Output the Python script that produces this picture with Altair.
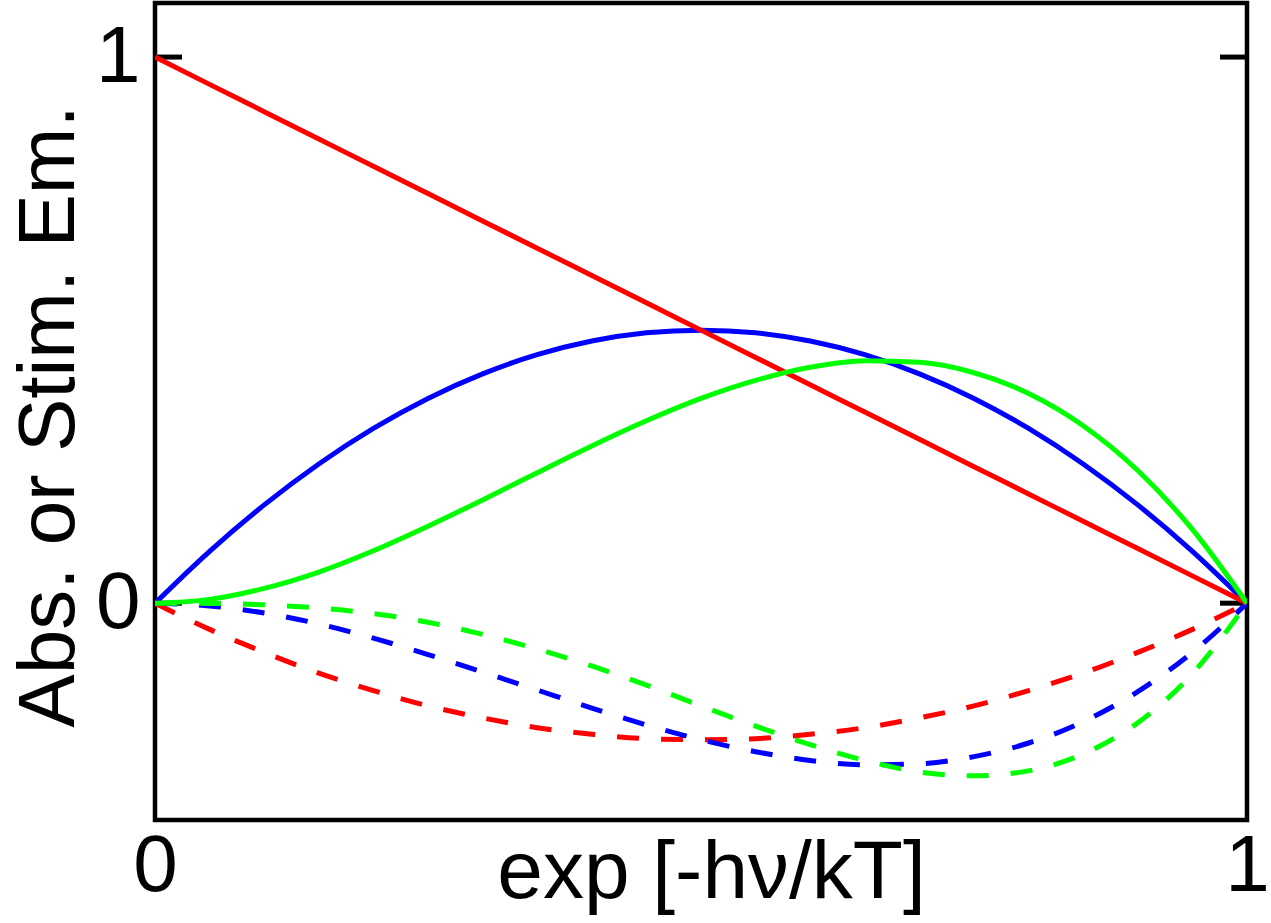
import altair as alt
import pandas as pd

# x positions (exp[-hv/kT])
x_vals = [0.0, 0.05, 0.1, 0.15, 0.2, 0.25, 0.3, 0.35, 0.4, 0.45, 0.5,
          0.55, 0.6, 0.65, 0.7, 0.75, 0.8, 0.85, 0.9, 0.95, 1.0]

# solid curves (absorption)
red_solid = [1.0, 0.95, 0.9, 0.85, 0.8, 0.75, 0.7, 0.65, 0.6, 0.55, 0.5,
             0.45, 0.4, 0.35, 0.3, 0.25, 0.2, 0.15, 0.1, 0.05, 0.0]
blue_solid = [0.0, 0.095, 0.18, 0.255, 0.32, 0.375, 0.42, 0.455, 0.48, 0.495, 0.5,
              0.495, 0.48, 0.455, 0.42, 0.375, 0.32, 0.255, 0.18, 0.095, 0.0]
green_solid = [0.0, 0.007, 0.027, 0.057, 0.096, 0.141, 0.189, 0.239, 0.288, 0.334, 0.375,
               0.408, 0.432, 0.444, 0.441, 0.422, 0.384, 0.325, 0.243, 0.135, 0.0]

# dashed curves (stimulated emission)
red_dashed = [0.0, -0.048, -0.09, -0.128, -0.16, -0.188, -0.21, -0.228, -0.24, -0.248, -0.25,
              -0.248, -0.24, -0.228, -0.21, -0.188, -0.16, -0.128, -0.09, -0.048, 0.0]
blue_dashed = [0.0, -0.005, -0.018, -0.038, -0.064, -0.094, -0.126, -0.159, -0.192, -0.223, -0.25,
               -0.272, -0.288, -0.296, -0.294, -0.281, -0.256, -0.217, -0.162, -0.090, 0.0]
green_dashed = [0.0, -0.0004, -0.003, -0.009, -0.019, -0.035, -0.057, -0.084, -0.115, -0.150, -0.188,
                -0.225, -0.259, -0.288, -0.309, -0.316, -0.307, -0.276, -0.219, -0.129, 0.0]

tick_values = [0, 1]

W, H = 1092, 817
TICK_LEN = 27
FONT = "Liberation Sans"

x_enc = alt.X(
    "x:Q",
    scale=alt.Scale(domain=[0, 1], nice=False, zero=False),
    axis=alt.Axis(
        values=[0, 1], format="d", grid=False, domain=False, ticks=False, tickSize=0,
        labelFontSize=80, labelFont=FONT, labelColor="black", labelPadding=7,
        labelFlush=False, labelAlign="center",
        title="exp [-hν/kT]", titleFontSize=82, titleFont=FONT, titleFontWeight="normal",
        titleColor="black", titleBaseline="alphabetic", titleAlign="center",
        titleX=556, titleY=77,
    ),
)
y_enc = alt.Y(
    "y:Q",
    scale=alt.Scale(domain=[-0.397, 1.099], nice=False, zero=False),
    axis=alt.Axis(
        values=[0, 1], format="d", grid=False, domain=False, ticks=False, tickSize=0,
        labelFontSize=80, labelFont=FONT, labelColor="black", labelPadding=15,
        labelFlush=False,
        title="Abs. or Stim. Em.", titleFontSize=80, titleFont=FONT, titleFontWeight="normal",
        titleColor="black", titleBaseline="alphabetic", titleAlign="center",
        titleAngle=270, titleX=-82, titleY=413,
    ),
)

tick_df = pd.DataFrame({"y": tick_values})
left_ticks = alt.Chart(tick_df).mark_rule(color="black", strokeWidth=5).encode(
    y=y_enc, x=alt.value(0), x2=alt.value(TICK_LEN)
)
right_ticks = alt.Chart(tick_df).mark_rule(color="black", strokeWidth=5).encode(
    y=y_enc, x=alt.value(W - TICK_LEN), x2=alt.value(W)
)

series = [
    (red_dashed, "#ff0000", True),
    (blue_dashed, "#0000ff", True),
    (green_dashed, "#00ff00", True),
    (blue_solid, "#0000ff", False),
    (red_solid, "#ff0000", False),
    (green_solid, "#00ff00", False),
]

layers = [left_ticks, right_ticks]
for vals, col, dashed in series:
    df = pd.DataFrame({"x": x_vals, "y": vals})
    kw = dict(color=col, strokeWidth=5, interpolate="monotone", clip=True)
    if dashed:
        kw["strokeDash"] = [22, 22]
        kw["strokeCap"] = "butt"
    layers.append(alt.Chart(df).mark_line(**kw).encode(x=x_enc, y=y_enc))

chart = alt.layer(*layers).properties(
    width=W, height=H,
    autosize=alt.AutoSizeParams(type="none"),
    padding={"left": 155, "top": 3, "right": 24, "bottom": 103},
    background="white",
).configure_view(stroke="black", strokeWidth=4.5, fill="white")

chart.save("out.html", embed_options={"renderer": "svg", "actions": False})
